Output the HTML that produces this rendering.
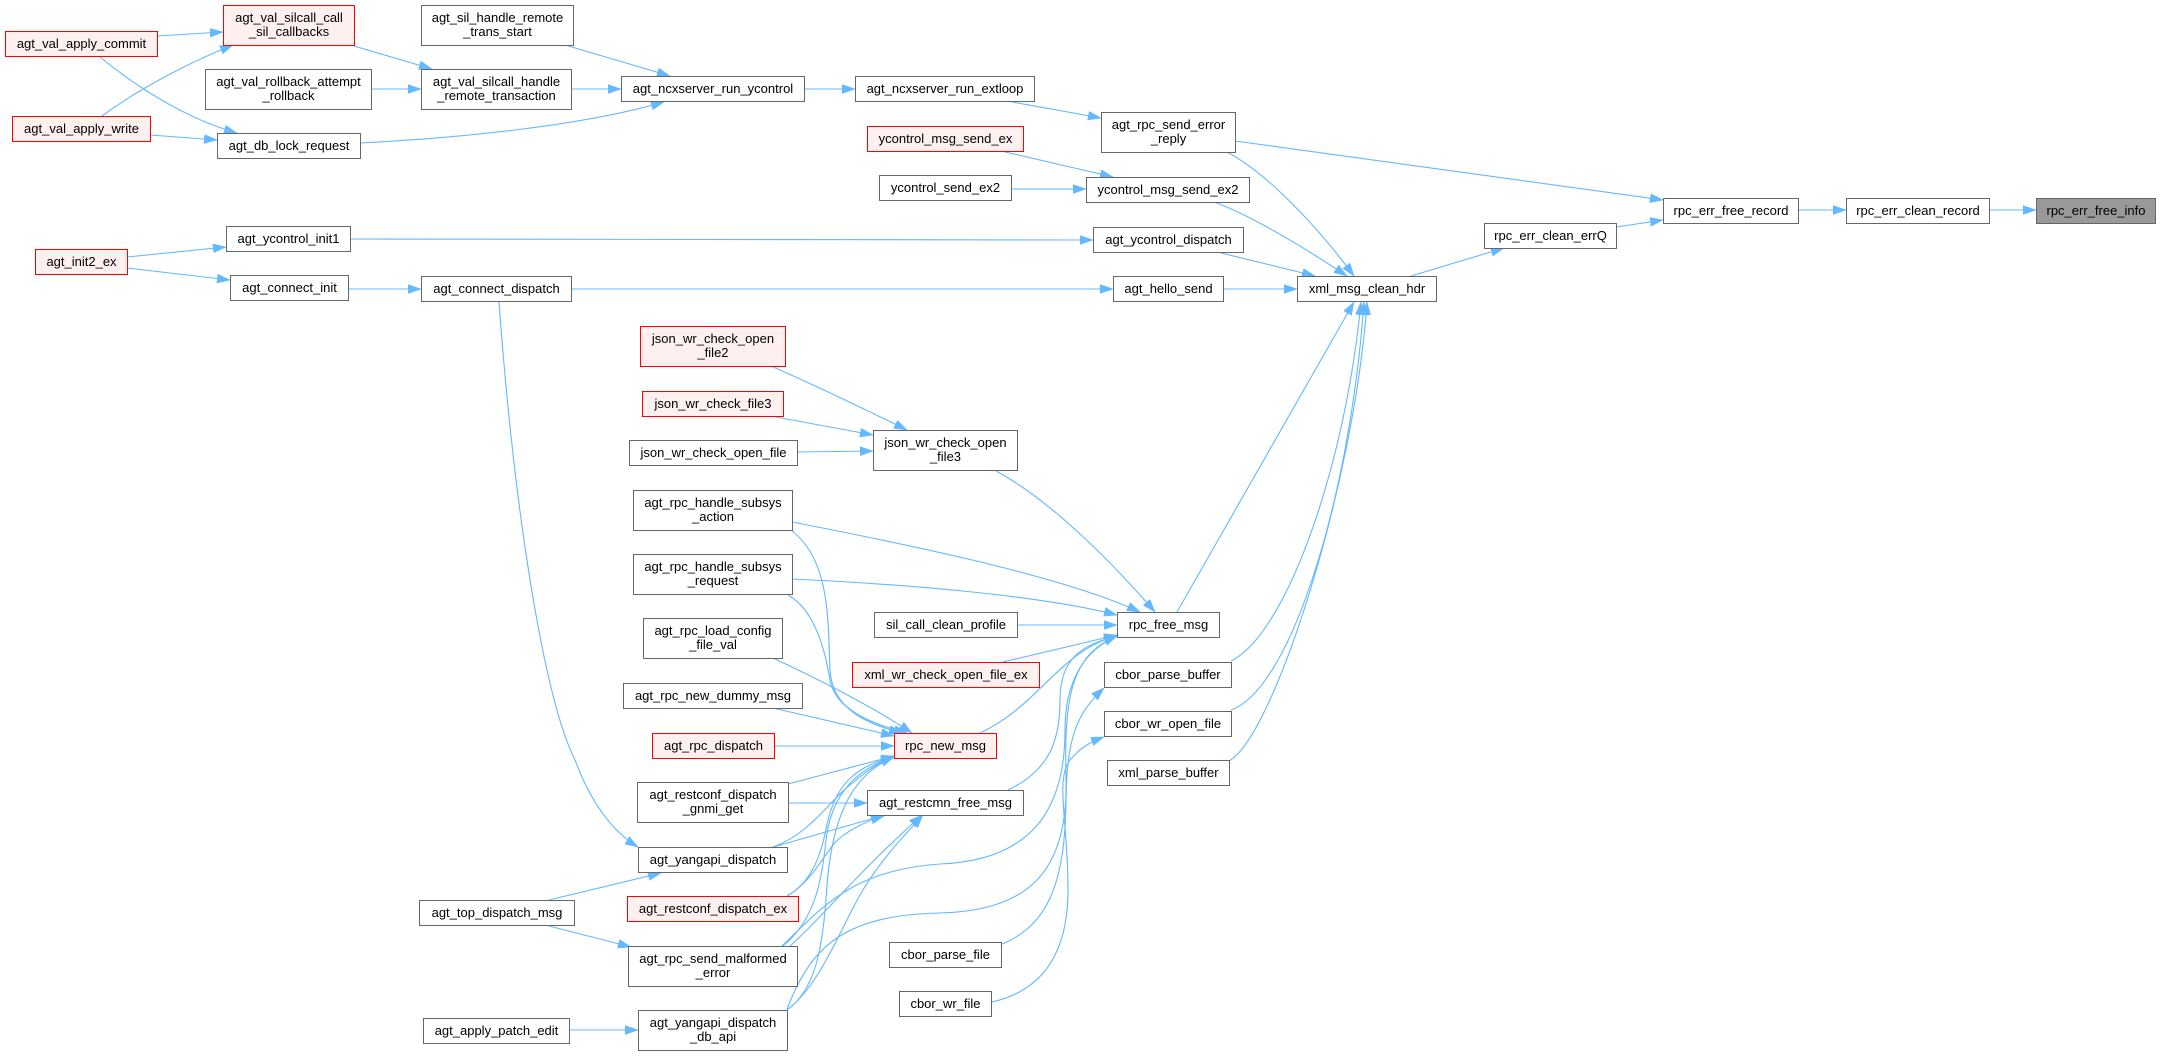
<!DOCTYPE html>
<html><head><meta charset="utf-8"><style>
html,body{margin:0;padding:0;background:#fff;}
svg{display:block;}
text{font-family:"Liberation Sans",Arial,Helvetica,sans-serif;font-size:13px;fill:#000;text-anchor:middle;}
.n{fill:#fff;stroke:#666;stroke-width:1;}
.r{fill:#fff0f0;stroke:#f00;stroke-width:1;}
.g{fill:#999;stroke:#666;stroke-width:1;}
.e{fill:none;stroke:#63b8ff;stroke-width:1.1;marker-end:url(#ah);}
</style></head><body>
<svg width="2161" height="1056" viewBox="0 0 2161 1056" xmlns="http://www.w3.org/2000/svg">
<defs><marker id="ah" markerUnits="userSpaceOnUse" markerWidth="15" markerHeight="11" refX="13" refY="4.5" orient="auto"><path d="M0,0 L13,4.5 L0,9 z" fill="#63b8ff" stroke="#63b8ff" stroke-width="0.5"/></marker></defs>

<!-- edges -->
<g>
<path class="e" d="M157,36 L223,32"/>
<path class="e" d="M100,57 C140,90 190,120 237,133"/>
<path class="e" d="M102,116 C140,88 190,62 233,45"/>
<path class="e" d="M150,135 L217,140"/>
<path class="e" d="M354,46 L432,69"/>
<path class="e" d="M371,89 L421,89"/>
<path class="e" d="M565,45 L670,76"/>
<path class="e" d="M571,89 L621,89"/>
<path class="e" d="M360,143 C460,138 580,126 664,102"/>
<path class="e" d="M804,89 L855,89"/>
<path class="e" d="M1012,102 L1101,118"/>
<path class="e" d="M1001,151 L1113,177"/>
<path class="e" d="M1011,189 L1086,189"/>
<path class="e" d="M1235,141 L1663,200"/>
<path class="e" d="M1227,152 C1270,175 1320,230 1354,276"/>
<path class="e" d="M1214,202 C1250,215 1300,245 1347,276"/>
<path class="e" d="M1221,253 L1315,276"/>
<path class="e" d="M1223,289 L1297,289"/>
<path class="e" d="M1411,276 L1504,248"/>
<path class="e" d="M1616,227 L1663,220"/>
<path class="e" d="M1798,210 L1846,210"/>
<path class="e" d="M1989,210 L2036,210"/>
<path class="e" d="M127,257 L226,247"/>
<path class="e" d="M127,268 L230,280"/>
<path class="e" d="M350,239 L1093,240"/>
<path class="e" d="M348,289 L421,289"/>
<path class="e" d="M571,289 L1113,289"/>
<path class="e" d="M499,302 C515,520 545,700 575,760 C590,800 610,830 638,847"/>
<path class="e" d="M771,366 Q830,392 907,430"/>
<path class="e" d="M776,417 L873,435"/>
<path class="e" d="M797,452 L873,451"/>
<path class="e" d="M996,471 C1050,500 1110,560 1155,612"/>
<path class="e" d="M792,522 C900,543 1060,575 1140,612"/>
<path class="e" d="M792,579 C900,584 1040,595 1117,615"/>
<path class="e" d="M1017,625 L1117,625"/>
<path class="e" d="M1003,662 L1117,635"/>
<path class="e" d="M1177,612 L1354,302"/>
<path class="e" d="M1231,661 C1285,635 1345,470 1361,302"/>
<path class="e" d="M1231,710 C1290,690 1350,500 1364,302"/>
<path class="e" d="M1229,761 C1275,735 1355,480 1367,302"/>
<path class="e" d="M980,733 C1040,705 1060,650 1117,636"/>
<path class="e" d="M1008,790 C1050,770 1060,740 1060,700 C1060,660 1080,645 1117,636"/>
<path class="e" d="M782,946 C820,910 850,870 940,864 C1040,860 1065,800 1065,730 C1065,680 1085,650 1117,636"/>
<path class="e" d="M787,1009 C810,950 840,915 940,913 C1030,911 1068,870 1066,780 C1064,700 1070,655 1117,636"/>
<path class="e" d="M1000,945 C1050,925 1065,880 1066,800 C1067,740 1075,715 1104,688"/>
<path class="e" d="M992,1002 C1045,990 1068,950 1068,890 C1068,820 1055,780 1070,760 C1080,748 1090,742 1104,737"/>
<path class="e" d="M792,531 C830,560 828,620 830,670 C832,710 870,725 902,733"/>
<path class="e" d="M788,595 C815,610 825,650 830,680 C835,710 875,725 907,733"/>
<path class="e" d="M773,658 C820,680 870,705 912,733"/>
<path class="e" d="M773,708 L894,736"/>
<path class="e" d="M774,746 L894,746"/>
<path class="e" d="M788,784 L894,756"/>
<path class="e" d="M788,803 L867,803"/>
<path class="e" d="M770,848 C810,835 830,800 850,785 C865,772 880,762 894,756"/>
<path class="e" d="M770,848 L885,815"/>
<path class="e" d="M787,896 C815,880 822,850 828,820 C838,780 860,765 894,757"/>
<path class="e" d="M787,896 C815,880 825,850 840,838 C855,826 870,820 884,816"/>
<path class="e" d="M783,946 C815,920 822,880 826,840 C832,790 860,768 894,757"/>
<path class="e" d="M790,946 C820,920 850,880 922,815"/>
<path class="e" d="M787,1010 C815,990 822,950 826,900 C830,820 850,775 894,757"/>
<path class="e" d="M787,1010 C820,985 840,930 860,895 C880,860 905,835 923,815"/>
<path class="e" d="M549,900 L661,873"/>
<path class="e" d="M549,926 L631,947"/>
<path class="e" d="M569,1030 L638,1030"/>
</g>

<!-- nodes -->
<g>
<rect class="r" x="5.5" y="31.5" width="152" height="25"/><text x="81.5" y="48">agt_val_apply_commit</text>
<rect class="r" x="223.5" y="5.5" width="131" height="40"/><text x="289" y="22">agt_val_silcall_call</text><text x="289" y="36">_sil_callbacks</text>
<rect class="n" x="421.5" y="5.5" width="152" height="40"/><text x="497.5" y="22">agt_sil_handle_remote</text><text x="497.5" y="36">_trans_start</text>
<rect class="n" x="205.5" y="69.5" width="166" height="40"/><text x="288.5" y="86">agt_val_rollback_attempt</text><text x="288.5" y="100">_rollback</text>
<rect class="n" x="421.5" y="69.5" width="150" height="40"/><text x="496.5" y="86">agt_val_silcall_handle</text><text x="496.5" y="100">_remote_transaction</text>
<rect class="n" x="621.5" y="76.5" width="183" height="25"/><text x="713" y="93">agt_ncxserver_run_ycontrol</text>
<rect class="r" x="12.5" y="116.5" width="138" height="25"/><text x="81.5" y="133">agt_val_apply_write</text>
<rect class="n" x="217.5" y="133.5" width="143" height="25"/><text x="289" y="150">agt_db_lock_request</text>
<rect class="n" x="855.5" y="76.5" width="179" height="25"/><text x="945" y="93">agt_ncxserver_run_extloop</text>
<rect class="n" x="1101.5" y="112.5" width="134" height="40"/><text x="1168.5" y="129">agt_rpc_send_error</text><text x="1168.5" y="143">_reply</text>
<rect class="r" x="867.5" y="126.5" width="156" height="25"/><text x="945.5" y="143">ycontrol_msg_send_ex</text>
<rect class="n" x="879.5" y="175.5" width="132" height="25"/><text x="945.5" y="192">ycontrol_send_ex2</text>
<rect class="n" x="1086.5" y="177.5" width="163" height="25"/><text x="1168" y="194">ycontrol_msg_send_ex2</text>
<rect class="n" x="1093.5" y="227.5" width="150" height="25"/><text x="1168.5" y="244">agt_ycontrol_dispatch</text>
<rect class="n" x="1113.5" y="276.5" width="110" height="25"/><text x="1168.5" y="293">agt_hello_send</text>
<rect class="n" x="1297.5" y="276.5" width="139" height="25"/><text x="1367" y="293">xml_msg_clean_hdr</text>
<rect class="n" x="1663.5" y="198.5" width="135" height="25"/><text x="1731" y="215">rpc_err_free_record</text>
<rect class="n" x="1846.5" y="198.5" width="143" height="25"/><text x="1918" y="215">rpc_err_clean_record</text>
<rect class="g" x="2036.5" y="198.5" width="119" height="25"/><text x="2096" y="215">rpc_err_free_info</text>
<rect class="n" x="1484.5" y="223.5" width="132" height="25"/><text x="1550.5" y="240">rpc_err_clean_errQ</text>
<rect class="n" x="226.5" y="226.5" width="124" height="25"/><text x="288.5" y="243">agt_ycontrol_init1</text>
<rect class="r" x="35.5" y="249.5" width="92" height="25"/><text x="81.5" y="266">agt_init2_ex</text>
<rect class="n" x="230.5" y="275.5" width="118" height="25"/><text x="289.5" y="292">agt_connect_init</text>
<rect class="n" x="421.5" y="276.5" width="150" height="25"/><text x="496.5" y="293">agt_connect_dispatch</text>
<rect class="r" x="640.5" y="326.5" width="145" height="40"/><text x="713" y="343">json_wr_check_open</text><text x="713" y="357">_file2</text>
<rect class="r" x="642.5" y="391.5" width="141" height="25"/><text x="713" y="408">json_wr_check_file3</text>
<rect class="n" x="629.5" y="440.5" width="168" height="25"/><text x="713.5" y="457">json_wr_check_open_file</text>
<rect class="n" x="873.5" y="430.5" width="144" height="40"/><text x="945.5" y="447">json_wr_check_open</text><text x="945.5" y="461">_file3</text>
<rect class="n" x="633.5" y="490.5" width="159" height="40"/><text x="713" y="507">agt_rpc_handle_subsys</text><text x="713" y="521">_action</text>
<rect class="n" x="633.5" y="554.5" width="159" height="40"/><text x="713" y="571">agt_rpc_handle_subsys</text><text x="713" y="585">_request</text>
<rect class="n" x="643.5" y="618.5" width="139" height="40"/><text x="713" y="635">agt_rpc_load_config</text><text x="713" y="649">_file_val</text>
<rect class="n" x="623.5" y="683.5" width="179" height="25"/><text x="713" y="700">agt_rpc_new_dummy_msg</text>
<rect class="n" x="874.5" y="612.5" width="143" height="25"/><text x="946" y="629">sil_call_clean_profile</text>
<rect class="n" x="1117.5" y="612.5" width="102" height="25"/><text x="1168.5" y="629">rpc_free_msg</text>
<rect class="r" x="852.5" y="662.5" width="187" height="25"/><text x="946" y="679">xml_wr_check_open_file_ex</text>
<rect class="n" x="1104.5" y="662.5" width="127" height="25"/><text x="1168" y="679">cbor_parse_buffer</text>
<rect class="n" x="1104.5" y="711.5" width="127" height="25"/><text x="1168" y="728">cbor_wr_open_file</text>
<rect class="n" x="1107.5" y="760.5" width="122" height="25"/><text x="1168.5" y="777">xml_parse_buffer</text>
<rect class="r" x="652.5" y="733.5" width="122" height="25"/><text x="713.5" y="750">agt_rpc_dispatch</text>
<rect class="r" x="894.5" y="733.5" width="102" height="25"/><text x="945.5" y="750">rpc_new_msg</text>
<rect class="n" x="637.5" y="782.5" width="151" height="40"/><text x="713" y="799">agt_restconf_dispatch</text><text x="713" y="813">_gnmi_get</text>
<rect class="n" x="867.5" y="790.5" width="156" height="25"/><text x="945.5" y="807">agt_restcmn_free_msg</text>
<rect class="n" x="638.5" y="847.5" width="149" height="25"/><text x="713" y="864">agt_yangapi_dispatch</text>
<rect class="n" x="419.5" y="900.5" width="155" height="25"/><text x="497" y="917">agt_top_dispatch_msg</text>
<rect class="r" x="627.5" y="896.5" width="171" height="25"/><text x="713" y="913">agt_restconf_dispatch_ex</text>
<rect class="n" x="628.5" y="946.5" width="169" height="40"/><text x="713" y="963">agt_rpc_send_malformed</text><text x="713" y="977">_error</text>
<rect class="n" x="423.5" y="1018.5" width="146" height="25"/><text x="496.5" y="1035">agt_apply_patch_edit</text>
<rect class="n" x="638.5" y="1010.5" width="149" height="40"/><text x="713" y="1027">agt_yangapi_dispatch</text><text x="713" y="1041">_db_api</text>
<rect class="n" x="889.5" y="942.5" width="112" height="25"/><text x="945.5" y="959">cbor_parse_file</text>
<rect class="n" x="899.5" y="991.5" width="92" height="25"/><text x="945.5" y="1008">cbor_wr_file</text>
</g>
</svg>
</body></html>
